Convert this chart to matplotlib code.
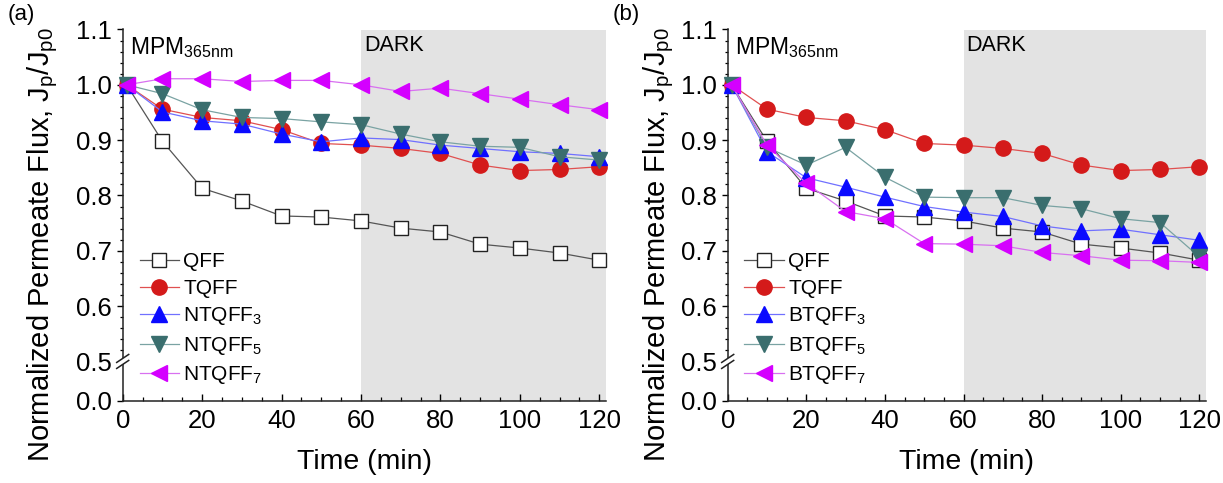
import numpy as np
import matplotlib
matplotlib.use("Agg")
import matplotlib.pyplot as plt
from matplotlib.scale import FuncScale
from matplotlib.ticker import FixedLocator

plt.rcParams['font.family'] = ['Liberation Sans', 'DejaVu Sans']
plt.rcParams['mathtext.fontset'] = 'custom'
plt.rcParams['mathtext.rm'] = 'Liberation Sans'
plt.rcParams['mathtext.it'] = 'Liberation Sans'

# ---------------- data ----------------
time_min = [1, 10, 20, 30, 40, 50, 60, 70, 80, 90, 100, 110, 120]

qff = [1.0, 0.898, 0.813, 0.790, 0.763, 0.761, 0.754, 0.741, 0.734, 0.712, 0.705, 0.696, 0.683]
tqff = [1.0, 0.956, 0.941, 0.935, 0.919, 0.894, 0.891, 0.885, 0.876, 0.855, 0.845, 0.847, 0.852]

# panel (a)
ntqff3 = [1.0, 0.951, 0.935, 0.929, 0.911, 0.897, 0.904, 0.901, 0.891, 0.885, 0.879, 0.876, 0.870]
ntqff5 = [1.0, 0.984, 0.955, 0.941, 0.939, 0.933, 0.928, 0.911, 0.897, 0.889, 0.887, 0.870, 0.864]
ntqff7 = [1.0, 1.011, 1.011, 1.006, 1.008, 1.008, 1.0, 0.988, 0.994, 0.984, 0.974, 0.964, 0.955]

# panel (b)
btqff3 = [1.0, 0.879, 0.832, 0.815, 0.797, 0.780, 0.770, 0.762, 0.745, 0.736, 0.739, 0.729, 0.719]
btqff5 = [1.0, 0.887, 0.855, 0.887, 0.833, 0.797, 0.796, 0.796, 0.782, 0.776, 0.758, 0.751, 0.689]
btqff7 = [1.0, 0.891, 0.822, 0.771, 0.758, 0.713, 0.712, 0.709, 0.697, 0.691, 0.683, 0.682, 0.679]

labels_a = ["QFF", "TQFF", "NTQFF$_3$", "NTQFF$_5$", "NTQFF$_7$"]
labels_b = ["QFF", "TQFF", "BTQFF$_3$", "BTQFF$_5$", "BTQFF$_7$"]

dark_start = 60
y_major = [0.0, 0.5, 0.6, 0.7, 0.8, 0.9, 1.0, 1.1]
x_major = [0, 20, 40, 60, 80, 100, 120]

# ---------------- styles ----------------
styles = [
    dict(marker='s', mfc='white', mec='#222222', color='#555555', ms=10),
    dict(marker='o', mfc='#d41a1a', mec='#d41a1a', color='#e05050', ms=11),
    dict(marker='^', mfc='#0a0aff', mec='#0a0aff', color='#7070ff', ms=11),
    dict(marker='v', mfc='#3a6e6e', mec='#3a6e6e', color='#7aa3a3', ms=11),
    dict(marker='<', mfc='#d400ff', mec='#d400ff', color='#d870f0', ms=11),
]

BREAK = 0.5
K = 0.143


def fwd(y):
    y = np.asarray(y, dtype=float)
    return np.where(y >= BREAK, y, BREAK - (BREAK - y) * K)


def inv(t):
    t = np.asarray(t, dtype=float)
    return np.where(t >= BREAK, t, BREAK - (BREAK - t) / K)


W, H = 1223, 483
fig = plt.figure(figsize=(W / 100, H / 100), dpi=100)

panels = [
    dict(rect=[122.7 / W, 82 / H, 483.3 / W, 371.5 / H], series=[qff, tqff, ntqff3, ntqff5, ntqff7],
         labels=labels_a, tag="(a)", tagx=8 / W, ylx=-0.129),
    dict(rect=[727.7 / W, 82 / H, 478.3 / W, 371.5 / H], series=[qff, tqff, btqff3, btqff5, btqff7],
         labels=labels_b, tag="(b)", tagx=613 / W, ylx=-0.108),
]

for p in panels:
    ax = fig.add_axes(p['rect'])
    ax.set_yscale(FuncScale(ax, (fwd, inv)))
    ax.set_xlim(0, 121.7)
    ax.set_ylim(0.0, 1.1)
    ax.axvspan(dark_start, 121.7, color='#e3e3e3', zorder=0, lw=0)

    handles = []
    for ser, st, lab in zip(p['series'], styles, p['labels']):
        h, = ax.plot(time_min, ser, marker=st['marker'], markerfacecolor=st['mfc'],
                     markeredgecolor=st['mec'], color=st['color'], markersize=st['ms'],
                     lw=0.9, markeredgewidth=1.0, clip_on=False, zorder=3, label=lab)
        handles.append(h)

    for s in ['top', 'right']:
        ax.spines[s].set_visible(False)
    for s in ['left', 'bottom']:
        ax.spines[s].set_linewidth(1.1)
        ax.spines[s].set_color('#222222')

    ax.yaxis.set_major_locator(FixedLocator(y_major))
    ax.set_yticklabels([f"{v:.1f}" for v in y_major])
    minors = [round(v, 2) for v in np.arange(0.52, 1.1, 0.02) if abs(v * 10 - round(v * 10)) > 1e-6]
    ax.yaxis.set_minor_locator(FixedLocator(minors))
    ax.xaxis.set_major_locator(FixedLocator(x_major))
    ax.xaxis.set_minor_locator(FixedLocator(list(range(5, 121, 5))))

    ax.tick_params(axis='y', which='major', direction='out', length=4, width=1.0, labelsize=18.5, pad=4)
    ax.tick_params(axis='y', which='minor', direction='out', length=2.5, width=0.9)
    ax.tick_params(axis='x', which='major', direction='in', length=5, width=1.0, labelsize=18.5, pad=6)
    ax.tick_params(axis='x', which='minor', direction='in', length=3, width=0.9)

    ax.set_xlabel("Time (min)", fontsize=20.5)
    ax.set_ylabel("Normalized Permeate Flux, J$_\\mathregular{p}$/J$_\\mathregular{p0}$", fontsize=21)
    ax.xaxis.set_label_coords(0.5, -0.128)
    ax.yaxis.set_label_coords(p['ylx'], 0.42)

    # axis break marks
    yb = (fwd(0.5) - fwd(0.0)) / (fwd(1.1) - fwd(0.0))
    dx = 6 / (p['rect'][2] * W)
    dy = 4 / (p['rect'][3] * H)
    g = 6 / (p['rect'][3] * H)
    ax.add_patch(plt.Rectangle((-dx, yb - g / 2), 2 * dx, g, transform=ax.transAxes,
                               facecolor='white', edgecolor='none', clip_on=False, zorder=5))
    for off in (-g / 2, g / 2):
        ax.plot([-dx, dx], [yb + off - dy, yb + off + dy], transform=ax.transAxes,
                color='#222222', lw=1.1, clip_on=False, zorder=6)

    ax.text(0.016, 0.985, "MPM$_\\mathregular{365nm}$", transform=ax.transAxes, fontsize=16.5,
            ha='left', va='top')
    ax.text((dark_start + 0.8) / 121.7, 0.985, "DARK", transform=ax.transAxes, fontsize=15.5,
            ha='left', va='top')

    ax.legend(handles=handles, loc='upper left', bbox_to_anchor=(0.035, 0.40), frameon=False,
              fontsize=15, handlelength=1.9, handletextpad=0.2, labelspacing=0.36,
              borderpad=0, borderaxespad=0)

    fig.text(p['tagx'], 1 - 4 / H, p['tag'], fontsize=16, ha='left', va='top')

fig.savefig("out.png", dpi=100)
